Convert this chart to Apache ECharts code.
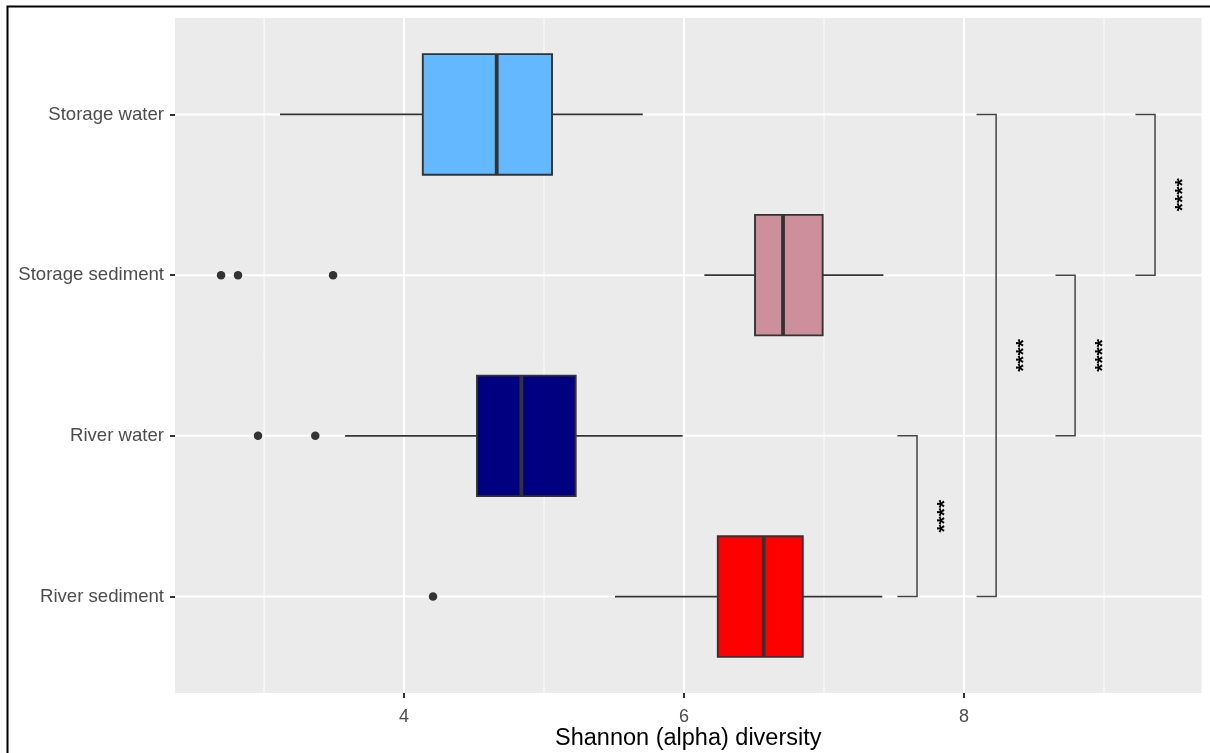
<!DOCTYPE html>
<html>
<head>
<meta charset="utf-8">
<title>Shannon (alpha) diversity</title>
<script src="https://cdn.jsdelivr.net/npm/echarts@6/dist/echarts.min.js"></script>
<style>
  html, body { margin: 0; padding: 0; background: #ffffff; }
  #chart { width: 1210px; height: 753px; }
</style>
</head>
<body>
<div id="chart"></div>
<script>
// Groups, listed from bottom (position 1) to top (position 4)
const categories = ['River sediment', 'River water', 'Storage sediment', 'Storage water'];

// Box statistics per group
const lowerWhisker = [5.507, 3.579, 6.145, 3.114];
const q1           = [6.241, 4.521, 6.507, 4.134];
const median       = [6.569, 4.838, 6.707, 4.662];
const q3           = [6.848, 5.226, 6.990, 5.057];
const upperWhisker = [7.416, 5.990, 7.424, 5.705];
const boxColors    = ['#FF0000', '#000080', '#CD8F9B', '#63B8FF'];

// Outlying samples: [value, group]
const outliers = [
  [4.207, 'River sediment'],
  [2.957, 'River water'],
  [3.366, 'River water'],
  [2.693, 'Storage sediment'],
  [2.814, 'Storage sediment'],
  [3.493, 'Storage sediment']
];

// Pairwise comparisons: [group A, group B, bracket position, label]
const comparisons = [
  ['River sediment', 'River water', 7.664, '****'],
  ['River sediment', 'Storage water', 8.229, '****'],
  ['River water', 'Storage sediment', 8.793, '****'],
  ['Storage sediment', 'Storage water', 9.364, '****']
];

// Axis breaks
const majorBreaks = [4, 6, 8];
const minorBreaks = [3, 5, 7, 9];
const xRange = [2.364, 9.696];
const yRange = [0.4, 4.6];

const pos = name => categories.indexOf(name) + 1;

const gridLineData = []
  .concat(minorBreaks.map(v => [v, 0, 0]))
  .concat(majorBreaks.map(v => [v, 0, 1]))
  .concat(categories.map((c, i) => [i + 1, 1, 1]));

const boxData = categories.map((c, i) => ({
  value: [i + 1, lowerWhisker[i], q1[i], median[i], q3[i], upperWhisker[i]],
  itemStyle: { color: boxColors[i] }
}));

const outlierData = outliers.map(o => [o[0], pos(o[1])]);

const bracketData = comparisons.map(c => [pos(c[0]), pos(c[1]), c[2], c[3]]);

const FONT = 'Liberation Sans, Arial, sans-serif';

const chart = echarts.init(document.getElementById('chart'), null, { renderer: 'canvas' });

const option = {
  animation: false,
  backgroundColor: '#ffffff',
  grid: {
    left: 175, right: 8.5, top: 18, bottom: 60,
    outerBoundsMode: 'none',
    containLabel: false,
    show: true, backgroundColor: '#EBEBEB', borderWidth: 0
  },
  xAxis: {
    type: 'value',
    min: xRange[0], max: xRange[1],
    splitLine: { show: false },
    axisLine: { show: false },
    axisTick: { show: true, customValues: majorBreaks, length: 5, lineStyle: { color: '#333333', width: 2 } },
    axisLabel: {
      customValues: majorBreaks, color: '#4D4D4D', fontSize: 18,
      fontFamily: FONT, margin: 15
    },
    name: 'Shannon (alpha) diversity',
    nameLocation: 'middle',
    nameGap: 34,
    nameMoveOverlap: false,
    nameTextStyle: { color: '#000000', fontSize: 23.5, fontFamily: FONT }
  },
  yAxis: {
    type: 'value',
    min: yRange[0], max: yRange[1],
    splitLine: { show: false },
    axisLine: { show: false },
    axisTick: { show: true, customValues: [1, 2, 3, 4], length: 5, lineStyle: { color: '#333333', width: 2 } },
    axisLabel: {
      customValues: [1, 2, 3, 4],
      formatter: v => categories[Math.round(v) - 1],
      color: '#4D4D4D', fontSize: 18.6,
      fontFamily: FONT, margin: 11
    }
  },
  graphic: [{
    type: 'polyline',
    shape: { points: [[7.5, 753], [7.5, 6.5], [1210, 6.5]] },
    style: { stroke: '#000000', lineWidth: 2, fill: null },
    silent: true
  }],
  series: [
    {
      // panel grid lines
      type: 'custom',
      silent: true,
      z: 1,
      data: gridLineData,
      encode: { x: 0 },
      renderItem: (params, api) => {
        const v = api.value(0), dir = api.value(1), major = api.value(2);
        let a, b;
        if (dir === 0) { a = api.coord([v, yRange[0]]); b = api.coord([v, yRange[1]]); }
        else { a = api.coord([xRange[0], v]); b = api.coord([xRange[1], v]); }
        return {
          type: 'line',
          shape: { x1: a[0], y1: a[1], x2: b[0], y2: b[1] },
          style: { stroke: '#FFFFFF', lineWidth: major ? 2 : 1 }
        };
      }
    },
    {
      // boxes with whiskers
      type: 'custom',
      silent: true,
      z: 3,
      data: boxData,
      encode: { y: 0, x: [1, 2, 3, 4, 5] },
      renderItem: (params, api) => {
        const p = api.value(0);
        const lw = api.value(1), a = api.value(2), m = api.value(3), b = api.value(4), uw = api.value(5);
        const pLow = api.coord([lw, p]), pQ1 = api.coord([a, p]), pMed = api.coord([m, p]);
        const pQ3 = api.coord([b, p]), pUp = api.coord([uw, p]);
        const top = api.coord([a, p + 0.375])[1], bot = api.coord([a, p - 0.375])[1];
        const fill = boxColors[p - 1];
        const stroke = '#333333';
        return {
          type: 'group',
          children: [
            { type: 'line', shape: { x1: pLow[0], y1: pLow[1], x2: pQ1[0], y2: pQ1[1] }, style: { stroke, lineWidth: 1.7 } },
            { type: 'line', shape: { x1: pQ3[0], y1: pQ3[1], x2: pUp[0], y2: pUp[1] }, style: { stroke, lineWidth: 1.7 } },
            { type: 'rect', shape: { x: pQ1[0], y: top, width: pQ3[0] - pQ1[0], height: bot - top }, style: { fill, stroke, lineWidth: 1.9 } },
            { type: 'line', shape: { x1: pMed[0], y1: top, x2: pMed[0], y2: bot }, style: { stroke, lineWidth: 3.8 } }
          ]
        };
      }
    },
    {
      type: 'scatter',
      silent: true,
      z: 4,
      data: outlierData,
      symbol: 'circle',
      symbolSize: 8.5,
      itemStyle: { color: '#333333', opacity: 1 }
    },
    {
      // significance brackets
      type: 'custom',
      silent: true,
      z: 5,
      data: bracketData,
      encode: { x: 2 },
      renderItem: (params, api) => {
        const y1 = api.value(0), y2 = api.value(1), x = api.value(2);
        const label = bracketData[params.dataIndex][3];
        const tip = 0.14;
        const pts = [
          api.coord([x - tip, y1]), api.coord([x, y1]),
          api.coord([x, y2]), api.coord([x - tip, y2])
        ];
        const t = api.coord([x + 0.2, (y1 + y2) / 2]);
        return {
          type: 'group',
          children: [
            { type: 'polyline', shape: { points: pts }, style: { stroke: '#444444', lineWidth: 1.5, fill: null } },
            {
              type: 'text', x: t[0], y: t[1], rotation: Math.PI / 2,
              style: {
                text: label, fill: '#000000', fontSize: 21, fontWeight: 'bold',
                fontFamily: FONT,
                align: 'center', verticalAlign: 'middle'
              }
            }
          ]
        };
      }
    }
  ]
};

chart.setOption(option);
</script>
</body>
</html>
